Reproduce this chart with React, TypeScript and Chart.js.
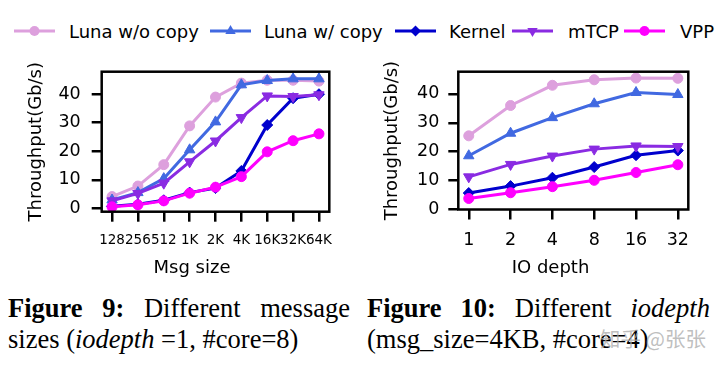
import React, { useEffect, useRef } from 'react';
import { Chart, registerables } from 'chart.js';

Chart.register(...registerables);

const FONT = '"DejaVu Sans", sans-serif';

// ---- data ----
const seriesNames = ['Luna w/o copy', 'Luna w/ copy', 'Kernel', 'mTCP', 'VPP'];
const seriesColors = ['#DDA0DD', '#4169E1', '#0000CD', '#8A2BE2', '#FF00FF'];
const seriesMarkers = ['circle', 'triangle', 'rectRot', 'triangle', 'circle'];
const markerRotation = [0, 0, 0, 180, 0];
const markerRadius = [5, 6, 5.5, 6, 5];

const msgSizes = ['128', '256', '512', '1K', '2K', '4K', '16K', '32K', '64K'];
const lunaNoCopyMsg = [4.1, 7.8, 15.3, 28.9, 39.0, 43.9, 44.9, 44.9, 44.6];
const lunaCopyMsg = [2.9, 5.5, 10.4, 20.5, 30.3, 43.3, 44.8, 45.4, 45.4];
const kernelMsg = [0.7, 1.4, 2.8, 5.5, 7.1, 13.1, 29.2, 38.6, 40.0];
const mtcpMsg = [2.6, 5.2, 8.8, 16.3, 23.6, 31.8, 39.4, 39.2, 39.8];
const vppMsg = [0.5, 1.2, 2.6, 5.3, 7.4, 11.1, 19.8, 23.7, 26.1];

const ioDepths = ['1', '2', '4', '8', '16', '32'];
const lunaNoCopyIo = [25.5, 36.0, 43.0, 44.9, 45.5, 45.4];
const lunaCopyIo = [18.6, 26.4, 31.8, 36.6, 40.5, 39.8];
const kernelIo = [5.7, 8.1, 11.0, 14.7, 18.8, 20.4];
const mtcpIo = [11.3, 15.6, 18.5, 20.9, 22.0, 21.8];
const vppIo = [3.8, 5.8, 7.9, 10.1, 12.8, 15.5];

const yTicks = [0, 10, 20, 30, 40];
const yTitle = 'Throughput(Gb/s)';

type PanelOpts = {
  labels: string[];
  series: number[][];
  yMin: number;
  yMax: number;
  xPad: number;
  yAxisWidth: number;
  xAxisHeight: number;
  padTop: number;
  padRight: number;
  xTickSize: number;
  xTickPad: number;
  yTickPad: number;
  xTitle: string;
  xTitleShift: number;
};

function makeConfig(o: PanelOpts): any {
  const datasets = o.series.map((vals, si) => ({
    label: seriesNames[si],
    data: vals.map((v, i) => ({ x: i, y: v })),
    borderColor: seriesColors[si],
    backgroundColor: seriesColors[si],
    pointBackgroundColor: seriesColors[si],
    pointBorderColor: seriesColors[si],
    borderWidth: 3,
    pointStyle: seriesMarkers[si],
    pointRotation: markerRotation[si],
    pointRadius: markerRadius[si],
    pointBorderWidth: 1,
    tension: 0,
    order: seriesNames.length - si,
  }));

  const framePlugin = {
    id: 'frameAndTitles',
    afterDatasetsDraw(chart: any) {
      const { ctx, chartArea: a } = chart;
      ctx.save();
      ctx.strokeStyle = '#000';
      ctx.lineWidth = 2.5;
      ctx.strokeRect(a.left, a.top, a.right - a.left, a.bottom - a.top);
      ctx.fillStyle = '#000';
      ctx.font = `18px ${FONT}`;
      ctx.textAlign = 'center';
      ctx.textBaseline = 'alphabetic';
      ctx.fillText(o.xTitle, (a.left + a.right) / 2 + o.xTitleShift, 223);
      ctx.translate(a.left - 65.5, (a.top + a.bottom) / 2);
      ctx.rotate(-Math.PI / 2);
      ctx.textBaseline = 'middle';
      ctx.fillText(yTitle, 0, 0);
      ctx.restore();
    },
  };

  return {
    type: 'line',
    data: { datasets },
    options: {
      animation: false,
      responsive: false,
      maintainAspectRatio: false,
      layout: { padding: { top: o.padTop, right: o.padRight, left: 0, bottom: 0 } },
      plugins: { legend: { display: false }, tooltip: { enabled: false } },
      scales: {
        x: {
          type: 'linear',
          min: -o.xPad,
          max: o.labels.length - 1 + o.xPad,
          afterBuildTicks: (s: any) => {
            s.ticks = o.labels.map((_, i) => ({ value: i }));
          },
          afterFit: (s: any) => {
            s.height = o.xAxisHeight;
          },
          border: { display: false },
          grid: {
            display: true,
            drawOnChartArea: false,
            drawTicks: true,
            tickLength: 10,
            tickWidth: 2.5,
            lineWidth: 2.5,
            tickColor: '#000',
            color: '#000',
          },
          ticks: {
            color: '#000',
            font: { family: FONT, size: o.xTickSize },
            padding: o.xTickPad,
            maxRotation: 0,
            minRotation: 0,
            autoSkip: false,
            callback: (v: any) => o.labels[Math.round(Number(v))] ?? '',
          },
        },
        y: {
          type: 'linear',
          min: o.yMin,
          max: o.yMax,
          afterBuildTicks: (s: any) => {
            s.ticks = yTicks.map((v) => ({ value: v }));
          },
          afterFit: (s: any) => {
            s.width = o.yAxisWidth;
          },
          border: { display: false },
          grid: {
            display: true,
            drawOnChartArea: false,
            drawTicks: true,
            tickLength: 10,
            tickWidth: 2.5,
            lineWidth: 2.5,
            tickColor: '#000',
            color: '#000',
          },
          ticks: {
            color: '#000',
            font: { family: FONT, size: 17.5 },
            padding: o.yTickPad,
            autoSkip: false,
            callback: (v: any) => String(v),
          },
        },
      },
    },
    plugins: [framePlugin],
  };
}

function Panel({ left, opts }: { left: number; opts: PanelOpts }) {
  const ref = useRef<HTMLCanvasElement | null>(null);
  useEffect(() => {
    if (!ref.current) return;
    const chart = new Chart(ref.current, makeConfig(opts));
    return () => chart.destroy();
  }, []);
  return (
    <canvas
      ref={ref}
      width={360}
      height={240}
      style={{ position: 'absolute', left, top: 50, width: 360, height: 240 }}
    />
  );
}

function Marker({ kind, cx, cy, color }: { kind: number; cx: number; cy: number; color: string }) {
  if (kind === 0 || kind === 4) return <circle cx={cx} cy={cy} r={5} fill={color} />;
  if (kind === 1)
    return <polygon points={`${cx},${cy - 6} ${cx + 5.2},${cy + 3} ${cx - 5.2},${cy + 3}`} fill={color} />;
  if (kind === 2)
    return <polygon points={`${cx},${cy - 5.5} ${cx + 5.5},${cy} ${cx},${cy + 5.5} ${cx - 5.5},${cy}`} fill={color} />;
  return <polygon points={`${cx},${cy + 6} ${cx + 5.2},${cy - 3} ${cx - 5.2},${cy - 3}`} fill={color} />;
}

const legendLineX = [14, 210, 395, 512, 624];
const legendTextX = [69, 264, 449, 568, 680];

function Legend() {
  return (
    <>
      <svg width={720} height={60} style={{ position: 'absolute', left: 0, top: 0 }}>
        {seriesNames.map((_, i) => (
          <g key={i}>
            <line x1={legendLineX[i]} y1={31} x2={legendLineX[i] + 41} y2={31} stroke={seriesColors[i]} strokeWidth={3} />
            <Marker kind={i} cx={legendLineX[i] + 20.5} cy={31} color={seriesColors[i]} />
          </g>
        ))}
      </svg>
      {seriesNames.map((n, i) => (
        <div
          key={n}
          style={{
            position: 'absolute',
            left: legendTextX[i],
            top: 21,
            font: `18px ${FONT}`,
            lineHeight: '21px',
            whiteSpace: 'nowrap',
            color: '#000',
          }}
        >
          {n}
        </div>
      ))}
    </>
  );
}

const capFont = '26.5px "Liberation Serif", "Times New Roman", serif';

export default function App() {
  const leftOpts: PanelOpts = {
    labels: msgSizes,
    series: [lunaNoCopyMsg, lunaCopyMsg, kernelMsg, mtcpMsg, vppMsg],
    yMin: -1.2,
    yMax: 47.9,
    xPad: 0.4,
    yAxisWidth: 101.7,
    xAxisHeight: 78.3,
    padTop: 21.7,
    padRight: 30.7,
    xTickSize: 13.5,
    xTickPad: 11,
    yTickPad: 11,
    xTitle: 'Msg size',
    xTitleShift: -23.5,
  };
  const rightOpts: PanelOpts = {
    labels: ioDepths,
    series: [lunaNoCopyIo, lunaCopyIo, kernelIo, mtcpIo, vppIo],
    yMin: 0,
    yMax: 47.7,
    xPad: 0.25,
    yAxisWidth: 98.3,
    xAxisHeight: 80.5,
    padTop: 21.7,
    padRight: 31.7,
    xTickSize: 17.5,
    xTickPad: 10,
    yTickPad: 9,
    xTitle: 'IO depth',
    xTitleShift: -22.8,
  };
  return (
    <div style={{ position: 'absolute', left: 0, top: 0, width: 720, height: 366, background: '#fff', overflow: 'hidden' }}>
      <Legend />
      <Panel left={0} opts={leftOpts} />
      <Panel left={360} opts={rightOpts} />
      <div style={{ position: 'absolute', left: 8, top: 293, width: 342, font: capFont, lineHeight: '30px', textAlign: 'justify', textAlignLast: 'justify', color: '#000' } as any}>
        <b>Figure 9:</b> Different message
      </div>
      <div style={{ position: 'absolute', left: 8, top: 324, font: capFont, lineHeight: '30px', whiteSpace: 'nowrap', color: '#000' }}>
        sizes (<i>iodepth</i> =1, #core=8)
      </div>
      <div style={{ position: 'absolute', left: 367, top: 293, width: 343, font: capFont, lineHeight: '30px', textAlign: 'justify', textAlignLast: 'justify', color: '#000' } as any}>
        <b>Figure 10:</b> Different <i>iodepth</i>
      </div>
      <div style={{ position: 'absolute', left: 367, top: 324, font: capFont, lineHeight: '30px', whiteSpace: 'nowrap', color: '#000' }}>
        (msg_size=4KB, #core=4)
      </div>
      <div style={{ position: 'absolute', left: 600, top: 326, font: '20.5px "Noto Sans CJK SC", sans-serif', lineHeight: '24px', whiteSpace: 'nowrap', color: 'rgba(170,170,170,0.75)' }}>
        知乎 @张张
      </div>
    </div>
  );
}
